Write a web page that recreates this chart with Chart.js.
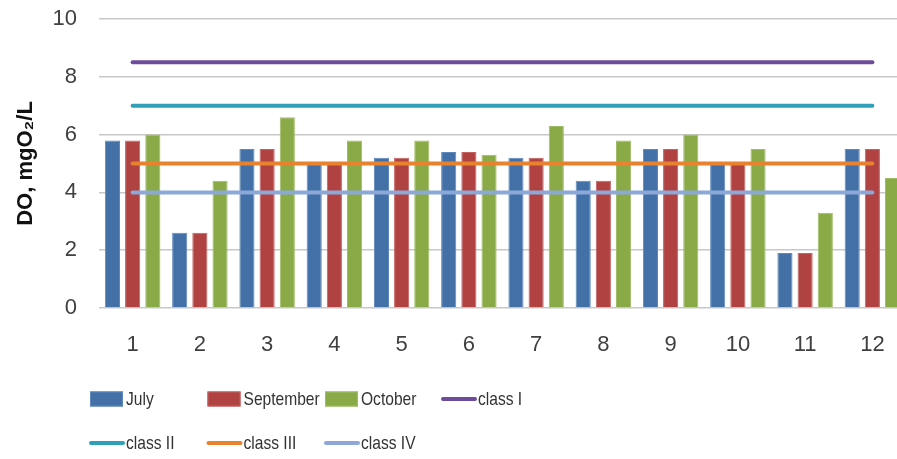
<!DOCTYPE html>
<html>
<head>
<meta charset="utf-8">
<script src="https://cdn.jsdelivr.net/npm/chart.js@4.4.1/dist/chart.umd.min.js"></script>
<style>
  html, body { margin: 0; padding: 0; background: #fff; overflow: hidden; width: 897px; height: 459px; }
  #wrap { position: relative; width: 920px; height: 459px; }
</style>
</head>
<body>
<div id="wrap"><canvas id="c" width="920" height="459"></canvas></div>
<script>
// Sampling sites
const categories = ['1', '2', '3', '4', '5', '6', '7', '8', '9', '10', '11', '12'];

// Dissolved oxygen per site, mgO2/L
const july      = [5.8, 2.6, 5.5, 5.0, 5.2, 5.4, 5.2, 4.4, 5.5, 5.0, 1.9, 5.5];
const september = [5.8, 2.6, 5.5, 5.0, 5.2, 5.4, 5.2, 4.4, 5.5, 5.0, 1.9, 5.5];
const october   = [6.0, 4.4, 6.6, 5.8, 5.8, 5.3, 6.3, 5.8, 6.0, 5.5, 3.3, 4.5];

// Water quality class limits
const classI   = [8.5, 8.5, 8.5, 8.5, 8.5, 8.5, 8.5, 8.5, 8.5, 8.5, 8.5, 8.5];
const classII  = [7, 7, 7, 7, 7, 7, 7, 7, 7, 7, 7, 7];
const classIII = [5, 5, 5, 5, 5, 5, 5, 5, 5, 5, 5, 5];
const classIV  = [4, 4, 4, 4, 4, 4, 4, 4, 4, 4, 4, 4];

const yTicks = [0, 2, 4, 6, 8, 10];

const FONT = "'Liberation Sans', Arial, sans-serif";
const TEXT = '#404040';

function barSet(label, data, fill, edge) {
  return {
    type: 'bar', label, data, order: 1,
    backgroundColor: fill, borderColor: edge, borderWidth: 1,
    categoryPercentage: 0.9, barPercentage: 0.75
  };
}
function lineSet(label, data, color) {
  return {
    type: 'line', label, data, order: 0,
    borderColor: color, backgroundColor: color, borderWidth: 4,
    borderCapStyle: 'round', pointRadius: 0, pointHoverRadius: 0, fill: false
  };
}

// Legend laid out in a fixed grid of four columns below the plot,
// with condensed label text
const gridLegend = {
  id: 'gridLegend',
  afterDraw(chart) {
    const ctx = chart.ctx;
    const cols = [90, 207.5, 325, 442];
    const rows = [399, 443];
    ctx.save();
    ctx.font = '19px ' + FONT;
    ctx.textBaseline = 'middle';
    ctx.textAlign = 'left';
    chart.data.datasets.forEach((ds, i) => {
      const x = cols[i % 4];
      const y = rows[Math.floor(i / 4)];
      if (ds.type === 'bar') {
        ctx.fillStyle = ds.backgroundColor;
        ctx.fillRect(x, y - 7.5, 33, 15);
        ctx.strokeStyle = ds.borderColor;
        ctx.lineWidth = 1;
        ctx.strokeRect(x + 0.5, y - 7, 32, 14);
      } else {
        ctx.strokeStyle = ds.borderColor;
        ctx.lineWidth = 4;
        ctx.lineCap = 'round';
        ctx.beginPath();
        ctx.moveTo(x + 1, y);
        ctx.lineTo(x + 33, y);
        ctx.stroke();
      }
      ctx.fillStyle = '#333';
      const w = ctx.measureText(ds.label).width;
      ctx.fillText(ds.label, x + 36, y + 1, w * 0.82);
    });
    ctx.restore();
  }
};

new Chart(document.getElementById('c'), {
  data: {
    labels: categories,
    datasets: [
      barSet('July', july, '#4470a8', '#5f88bc'),
      barSet('September', september, '#b04242', '#c26262'),
      barSet('October', october, '#8aaa48', '#a0bc66'),
      lineSet('class I', classI, '#6e4c9c'),
      lineSet('class II', classII, '#2fa0b8'),
      lineSet('class III', classIII, '#e8822e'),
      lineSet('class IV', classIV, '#8ca8d8')
    ]
  },
  options: {
    responsive: false,
    animation: false,
    layout: { padding: { left: 0, right: 14, top: 19, bottom: 0 } },
    plugins: { legend: { display: false }, tooltip: { enabled: false } },
    scales: {
      x: {
        grid: { display: false, drawTicks: false },
        border: { display: false },
        ticks: { font: { family: FONT, size: 22 }, color: TEXT, padding: 24 },
        afterFit(s) { s.height = 151; }
      },
      y: {
        min: 0, max: 10,
        afterBuildTicks(s) { s.ticks = yTicks.map(v => ({ value: v })); },
        grid: { color: '#c8c8c8', lineWidth: 1.5, drawTicks: false },
        border: { display: false },
        ticks: { font: { family: FONT, size: 22 }, color: TEXT, padding: 22 },
        title: {
          display: true, text: 'DO, mgO₂/L', color: '#111',
          font: { family: FONT, size: 22, weight: 'bold' },
          padding: { top: 13, bottom: 0 }
        },
        afterFit(s) {
          s.width = 99;
          s.paddingTop = 0;
          s.paddingBottom = 0;
        }
      }
    }
  },
  plugins: [gridLegend]
});
</script>
</body>
</html>
